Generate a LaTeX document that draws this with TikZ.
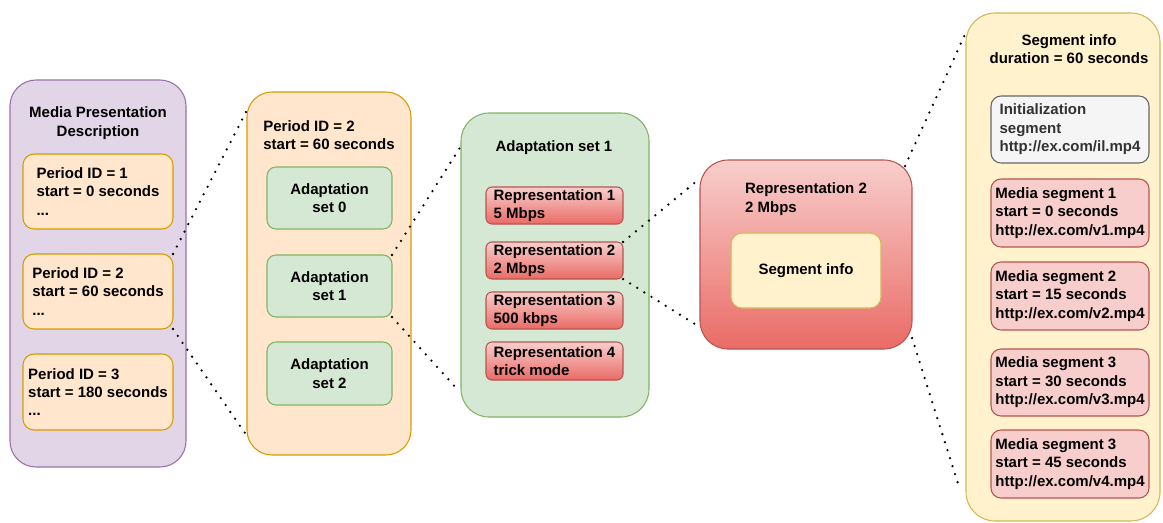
\documentclass[tikz,border=0pt]{standalone}
\usepackage{fontspec}
\setmainfont{Liberation Sans}
\usetikzlibrary{calc}
\definecolor{purpF}{HTML}{E1D5E7}\definecolor{purpS}{HTML}{9673A6}
\definecolor{orgF}{HTML}{FFE6CC}\definecolor{orgS}{HTML}{D79B00}
\definecolor{grnF}{HTML}{D5E8D4}\definecolor{grnS}{HTML}{82B366}
\definecolor{redF}{HTML}{F8CECC}\definecolor{redS}{HTML}{B85450}\definecolor{redB}{HTML}{EA6B66}
\definecolor{yelF}{HTML}{FFF2CC}\definecolor{yelS}{HTML}{D6B656}
\definecolor{gryF}{HTML}{F5F5F5}\definecolor{gryS}{HTML}{666666}\definecolor{gryT}{HTML}{333333}
\begin{document}
\begin{tikzpicture}[x=0.75pt,y=-0.75pt,
  every node/.style={font=\fontsize{11.25pt}{13.8pt}\selectfont\bfseries, inner sep=0pt, outer sep=0pt, align=left},
  wh/.style 2 args={minimum width=#1*0.75pt, minimum height=#2*0.75pt},
  rc/.style={rounded corners=#1*0.75pt},
  purpbox/.style={draw=purpS, fill=purpF, line width=0.8pt},
  orgbox/.style={draw=orgS, fill=orgF, line width=0.8pt},
  grnbox/.style={draw=grnS, fill=grnF, line width=0.8pt, align=center},
  redbox/.style={draw=redS, fill=redF, line width=0.8pt},
  gradbox/.style={draw=redS, top color=redF, bottom color=redB, line width=0.8pt},
  yelbox/.style={draw=yelS, fill=yelF, line width=0.8pt},
  grybox/.style={draw=gryS, fill=gryF, text=gryT, line width=0.8pt},
  dots/.style={black, line width=1.9pt, line cap=round, dash pattern=on 0pt off 6.3pt}
]
\useasboundingbox (0,0) rectangle (1163,522);

% Media Presentation Description
\node[purpbox, wh={176}{387}, rc=26] (mpd) at (98,273.5) {};
\node[align=center] (mpdt) at (98,123) {Media Presentation\\Description};
\node[orgbox, wh={150}{75}, rc=11] (p1) at (98,191.5) {Period ID = 1\\start = 0 seconds\\...};
\node[orgbox, wh={150}{75}, rc=11] (p2) at (98,291.5) {Period ID = 2\\start = 60 seconds\\...};
\node[orgbox, wh={150}{76}, rc=11] (p3) at (98,392) {Period ID = 3\\start = 180 seconds\\...};

% Period column
\node[orgbox, wh={164}{363}, rc=25] (pcol) at (329,273.5) {};
\node (pcolt) at (329,135) {Period ID = 2\\start = 60 seconds};
\node[grnbox, wh={125}{62}, rc=9] (as0) at (329.5,198) {Adaptation\\set 0};
\node[grnbox, wh={125}{62}, rc=9] (as1) at (329.5,286) {Adaptation\\set 1};
\node[grnbox, wh={125}{63}, rc=9] (as2) at (329.5,373.5) {Adaptation\\set 2};

% Adaptation set 1
\node[grnbox, wh={188}{304}, rc=28] (aset) at (555,265) {};
\node (asett) at (554,148) {Adaptation set 1};
\node[gradbox, wh={137}{37}, rc=6] (r1) at (554.5,205.5) {Representation 1\\5 Mbps};
\node[gradbox, wh={137}{37}, rc=6] (r2) at (554.5,260.5) {Representation 2\\2 Mbps};
\node[gradbox, wh={137}{37}, rc=6] (r3) at (554.5,310.5) {Representation 3\\500 kbps};
\node[gradbox, wh={137}{38}, rc=6] (r4) at (554.5,361) {Representation 4\\trick mode};

% Representation 2
\node[gradbox, wh={212}{189}, rc=28] (rep) at (806,254.5) {};
\node (rept) at (806,199) {Representation 2\\2 Mbps};
\node[yelbox, wh={150}{75}, rc=11] (segi) at (806,270.5) {Segment info};

% Segment info column
\node[yelbox, wh={194}{508}, rc=29] (segcol) at (1063,267) {};
\node[align=center] (segt) at (1069,49) {Segment info\\duration = 60 seconds};
\node[grybox, wh={158}{67}, rc=10] (init) at (1070,129.5) {Initialization\\segment\\http://ex.com/il.mp4};
\node[redbox, wh={158}{68}, rc=10] (ms1) at (1070,213) {Media segment 1\\start = 0 seconds\\http://ex.com/v1.mp4};
\node[redbox, wh={158}{68}, rc=10] (ms2) at (1070,296) {Media segment 2\\start = 15 seconds\\http://ex.com/v2.mp4};
\node[redbox, wh={158}{67}, rc=10] (ms3) at (1070,382.5) {Media segment 3\\start = 30 seconds\\http://ex.com/v3.mp4};
\node[redbox, wh={158}{68}, rc=10] (ms4) at (1070,464) {Media segment 3\\start = 45 seconds\\http://ex.com/v4.mp4};

% dotted connectors
\draw[dots] (p2.north east) -- ($(pcol.north west)+(0,18)$);
\draw[dots] (p2.south east) -- ($(pcol.south west)+(0,-19)$);
\draw[dots] (as1.north east) -- ($(aset.north west)+(0,33)$);
\draw[dots] (as1.south east) -- ($(aset.south west)+(-3,-27)$);
\draw[dots] (r2.north east) -- ($(rep.north west)+(-2,20)$);
\draw[dots] (r2.south east) -- ($(rep.south west)+(-2,-23)$);
\draw[dots] ($(rep.north east)+(-7,6)$) -- ($(segcol.north west)+(1,17)$);
\draw[dots] ($(rep.south east)+(0,-11)$) -- ($(segcol.south west)+(-6,-31)$);
\end{tikzpicture}
\end{document}
